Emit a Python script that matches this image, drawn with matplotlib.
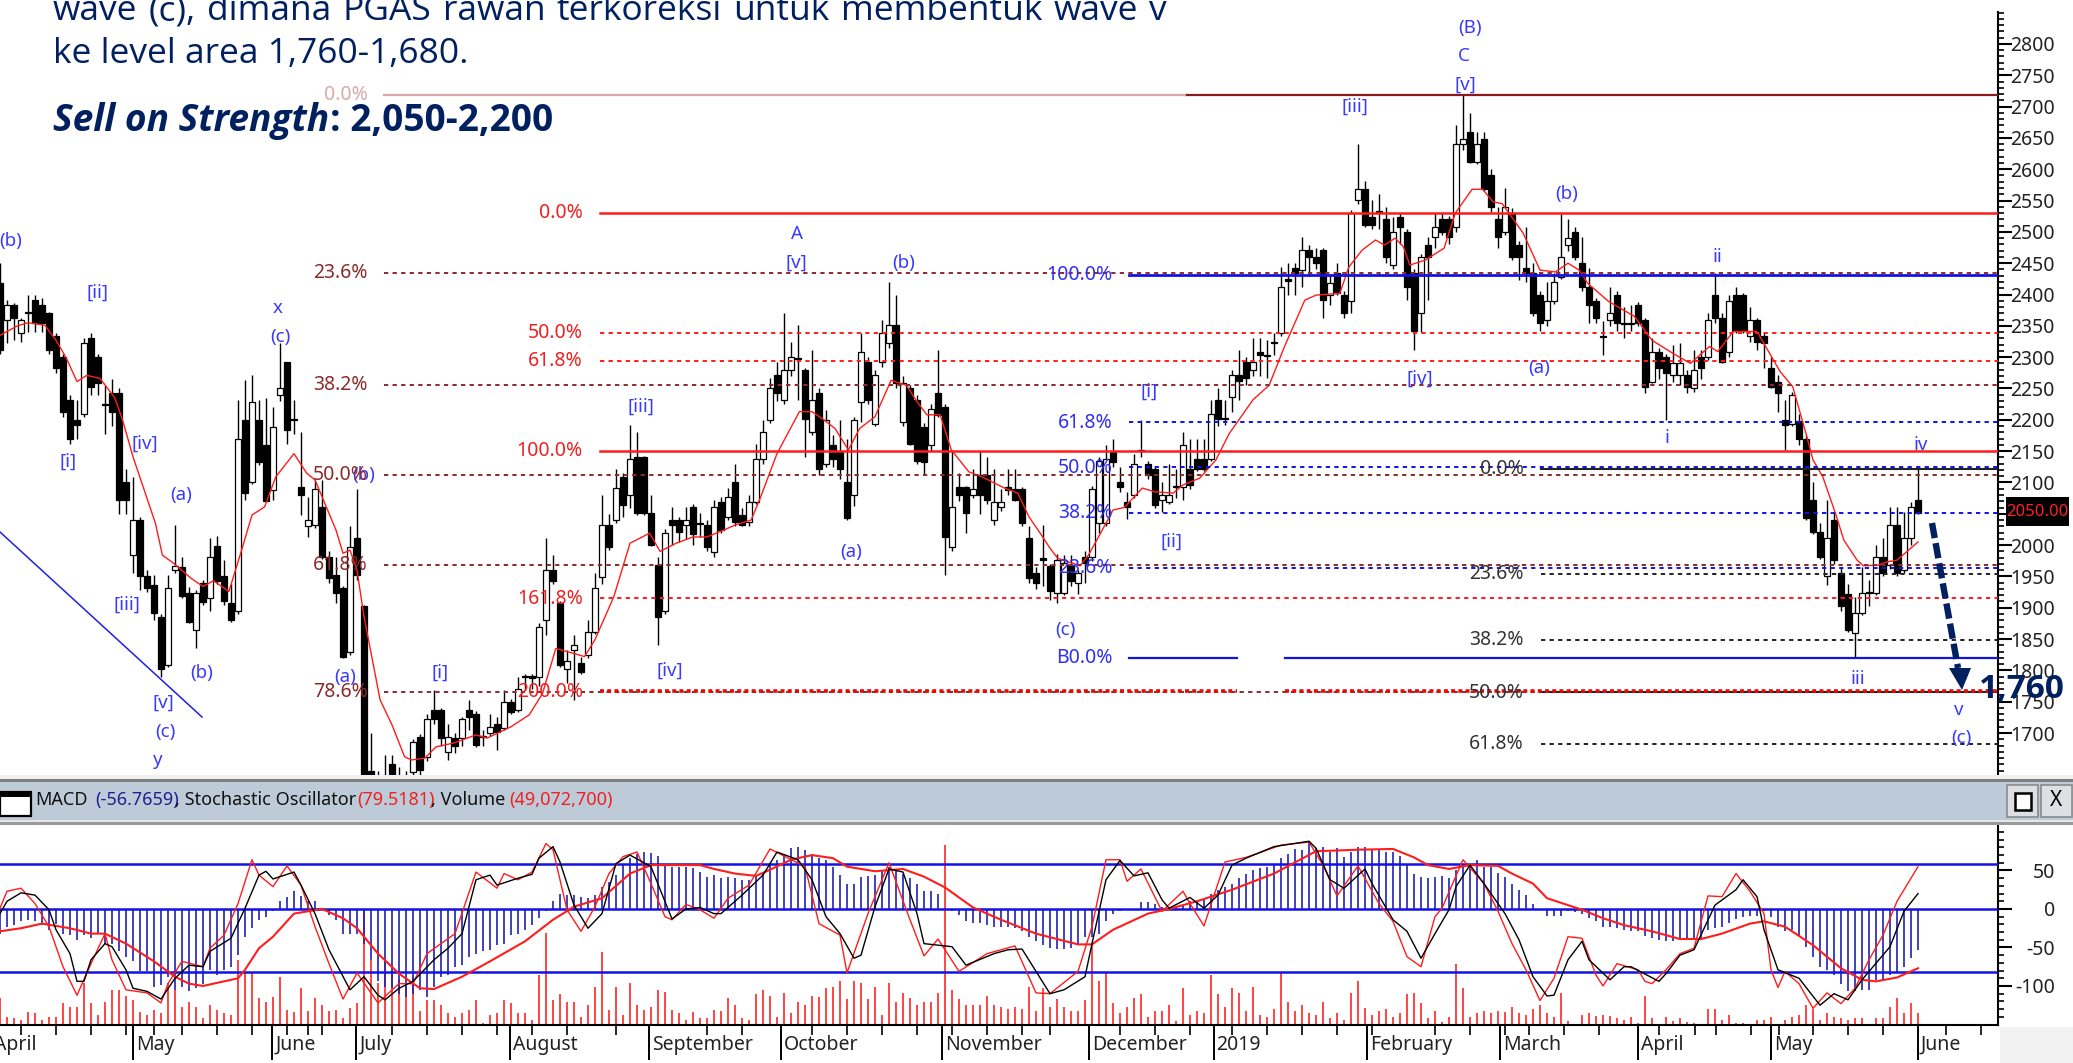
import matplotlib
matplotlib.use("Agg")
import matplotlib.pyplot as plt
from matplotlib.patches import Rectangle, Polygon
import numpy as np

W, H = 2073, 1063
plt.rcParams['font.family'] = ['Noto Sans', 'DejaVu Sans']
plt.rcParams['axes.unicode_minus'] = False

opens = [2418,2359,2383,2338,2372,2391,2383,2370,2333,2301,
2231,2200,2210,2330,2301,2224,2242,2243,2101,1984,
2040,1950,1936,1886,1809,1960,1965,1923,1864,1939,
1915,1999,1950,1907,1894,2200,2101,2200,2160,2088,
2240,2293,2202,2092,2030,2032,2061,1981,1952,1931,
1830,2011,1902,1640,1625,1630,1650,1630,1625,1638,
1694,1662,1737,1737,1670,1692,1692,1737,1731,1695,
1700,1715,1708,1750,1737,1791,1791,1790,1880,1960,
1907,1803,1833,1811,1825,1862,1949,2032,2040,2109,
2080,2140,2140,2051,1968,1894,2040,2040,2032,2061,
2036,2032,1989,2069,2045,2101,2048,2037,2069,2138,
2200,2271,2231,2279,2299,2279,2181,2242,2130,2160,
2149,2101,2080,2229,2293,2194,2293,2322,2351,2197,
2250,2231,2189,2160,2242,2221,1997,2092,2092,2080,
2112,2112,2040,2061,2092,2090,2090,2011,1955,1979,
1967,1924,1924,1968,1939,1981,1981,2035,2035,2149,
2101,2069,2080,2152,2130,2122,2072,2069,2094,2093,
2122,2138,2138,2138,2231,2203,2237,2271,2293,2279,
2309,2304,2324,2338,2424,2442,2439,2471,2460,2471,
2399,2434,2399,2389,2551,2569,2524,2533,2521,2447,
2524,2500,2434,2370,2479,2492,2521,2521,2508,2641,
2660,2612,2649,2591,2521,2500,2530,2479,2442,2434,
2399,2359,2389,2428,2479,2500,2450,2412,2389,2334,
2359,2399,2355,2355,2383,2359,2261,2309,2301,2271,
2271,2271,2250,2301,2301,2399,2362,2309,2399,2399,
2333,2359,2333,2282,2261,2200,2194,2198,2170,2072,
2021,1950,2040,1955,1922,1860,1891,1925,1923,1981,
1968,2032,1960,2011,2072]
highs = [2450,2392,2387,2362,2399,2399,2395,2372,2338,2305,
2240,2231,2330,2338,2305,2255,2265,2250,2122,2108,
2045,1960,1952,1890,1952,2032,1981,1933,1928,1945,
2011,2015,1976,1938,2231,2263,2271,2231,2235,2220,
2322,2293,2231,2181,2077,2104,2104,1990,1981,1935,
2030,2090,1905,1700,1640,1665,1665,1645,1640,1690,
1698,1731,1769,1740,1715,1700,1726,1753,1735,1705,
1731,1725,1769,1755,1790,1795,1795,1875,2011,1984,
1910,1832,1856,1822,1880,1955,2080,2050,2122,2115,
2192,2181,2142,2080,1981,2025,2061,2045,2061,2065,
2051,2040,2072,2077,2091,2130,2060,2080,2162,2200,
2266,2293,2370,2324,2351,2282,2311,2250,2215,2175,
2200,2170,2205,2338,2300,2280,2359,2420,2399,2270,
2255,2240,2195,2225,2311,2225,2150,2115,2095,2122,
2150,2140,2122,2090,2122,2122,2092,2030,1965,2032,
1970,1985,1984,1984,1960,1990,2095,2140,2160,2170,
2125,2085,2146,2200,2135,2125,2101,2130,2122,2181,
2170,2170,2170,2231,2250,2231,2279,2311,2300,2330,
2330,2327,2338,2444,2450,2450,2492,2479,2475,2475,
2431,2450,2405,2535,2641,2582,2551,2561,2540,2524,
2530,2505,2440,2465,2492,2530,2530,2525,2670,2718,
2689,2660,2660,2600,2540,2570,2538,2485,2508,2450,
2405,2420,2434,2530,2521,2508,2492,2442,2395,2357,
2412,2405,2380,2383,2388,2362,2330,2315,2305,2320,
2322,2280,2311,2311,2370,2434,2370,2399,2412,2402,
2380,2362,2340,2301,2271,2231,2245,2210,2175,2101,
2035,2072,2053,1965,1938,1917,1965,1944,2000,2011,
2061,2061,2053,2069,2122]
lows = [2305,2322,2328,2325,2340,2340,2340,2305,2275,2205,
2162,2170,2205,2240,2240,2178,2190,2050,2050,1955,
1928,1925,1880,1790,1805,1955,1915,1875,1835,1905,
1894,1938,1905,1878,1890,2072,2098,2128,2068,2072,
2230,2162,2178,2048,2013,2028,1978,1940,1907,1820,
1825,1945,1620,1600,1590,1600,1600,1600,1600,1630,
1625,1655,1715,1680,1657,1668,1680,1705,1678,1680,
1695,1673,1705,1730,1733,1768,1770,1775,1856,1938,
1805,1780,1753,1795,1820,1858,1938,1992,2035,2045,
2060,2048,2048,1998,1840,1890,2000,2005,2010,2000,
2013,1990,1981,2020,2040,2030,2030,2030,2065,2130,
2195,2230,2225,2270,2231,2141,2176,2112,2125,2125,
2105,2040,2062,2196,2225,2190,2285,2315,2250,2190,
2160,2130,2112,2150,2205,1952,1990,2070,2020,2075,
2050,2065,2032,2055,2080,2070,2030,1940,1930,1935,
1912,1908,1920,1935,1922,1940,1975,2020,2030,2125,
2085,2042,2075,2141,2105,2060,2053,2065,2075,2072,
2090,2118,2118,2135,2190,2192,2212,2231,2255,2270,
2270,2266,2303,2333,2399,2400,2412,2430,2440,2362,
2383,2400,2362,2370,2545,2508,2505,2505,2450,2440,
2480,2391,2311,2340,2391,2474,2495,2480,2500,2630,
2610,2608,2565,2532,2474,2495,2455,2423,2420,2365,
2341,2350,2385,2425,2470,2455,2405,2354,2354,2303,
2350,2341,2330,2341,2350,2242,2258,2265,2200,2260,
2255,2242,2245,2265,2295,2355,2290,2300,2338,2338,
2325,2311,2282,2250,2213,2152,2190,2160,2040,2018,
1978,1937,1970,1895,1862,1819,1888,1902,1920,1950,
1962,1950,1955,2000,2050]
closes = [2311,2383,2362,2359,2370,2354,2354,2311,2282,2213,
2170,2192,2322,2253,2258,2223,2213,2072,2072,2040,
1950,1931,1891,1803,1931,1966,1918,1878,1924,1909,
1981,1942,1910,1880,2169,2083,2229,2133,2071,2189,
2250,2183,2200,2080,2040,2090,1981,1947,1923,1822,
1997,1952,1635,1600,1600,1610,1615,1610,1605,1686,
1641,1723,1723,1692,1694,1680,1722,1726,1681,1693,
1709,1702,1750,1734,1771,1789,1788,1870,1960,1942,
1809,1815,1840,1798,1862,1931,2032,1997,2091,2064,
2138,2051,2051,2000,1886,2019,2032,2021,2040,2018,
2034,1997,2061,2024,2077,2037,2032,2069,2138,2181,
2250,2242,2279,2301,2297,2202,2231,2122,2200,2138,
2122,2043,2200,2309,2231,2271,2338,2351,2258,2258,
2162,2135,2133,2218,2208,2013,2061,2080,2051,2090,
2080,2072,2069,2069,2088,2072,2035,1947,1939,1977,
1926,1976,1971,1942,1955,1971,2090,2135,2138,2133,
2093,2061,2130,2150,2112,2064,2080,2080,2092,2160,
2096,2122,2122,2210,2202,2201,2271,2262,2266,2293,
2303,2302,2322,2412,2422,2434,2471,2460,2450,2391,
2418,2402,2370,2530,2569,2511,2511,2531,2460,2500,
2508,2412,2341,2460,2460,2508,2500,2492,2641,2649,
2612,2641,2569,2540,2492,2540,2460,2460,2434,2370,
2354,2389,2420,2460,2490,2460,2412,2383,2362,2332,
2370,2354,2353,2353,2354,2253,2309,2282,2274,2290,
2290,2253,2279,2282,2359,2362,2293,2389,2341,2341,
2359,2325,2322,2253,2242,2192,2240,2170,2043,2021,
1981,2011,1976,1902,1865,1891,1924,1924,1981,1955,
2032,1955,2011,2061,2052]

ma_i = [0,2.5,4,6.4,8,9.5,11,12.4,14.3,16.4,17.5,19,22.2,23.2,24.8,27.3,29,30.5,32.7,34.3,36,37.8,39.4,42,43.8,45,48,49,50,51,52,54.3,56,57.8,58.8,60.7,62.3,64.8,68,69.6,73,75.6,77.5,79.4,82,83.5,85,87.7,90,92.8,94.3,96.6,99,101,103.4,105,107.3,108.5,111,114.2,116,117.7,119.3,121.2,122.8,125,127.3,129.5,130.8,132.4,134.3,135.9,138.4,140.3,143.5,145.4,147,148.6,150,151.1,154.3,155.5,158,159,160.6,163.2,165,167.6,169,171.4,173.7,175.6,179,181.3,183.5,186.4,188,191.4,192.7,194.6,196.5,197.8,199.3,200.5,201.4,203.6,206.3,207.9,210.3,211.8,213.3,214.6,217.6,220,222.2,224,225.6,226.8,229.8,233.5,236,239,241.5,244.2,245.4,247.6,251,254.3,256.1,258,259,260.4,262.2,263.4,265.3,266.2,268.3,269.5,271,274]
ma_p = [2335,2350,2355,2351,2327,2298,2261,2271,2266,2235,2200,2141,2035,1984,1971,1947,1934,1943,1926,1984,2048,2061,2109,2146,2115,2104,2024,1987,1992,1960,1886,1753,1713,1662,1657,1660,1678,1684,1697,1692,1710,1729,1763,1835,1827,1822,1849,1918,2003,2019,1990,2003,2013,2013,2024,2032,2040,2072,2146,2213,2213,2200,2186,2152,2186,2205,2263,2255,2232,2208,2208,2152,2117,2109,2091,2083,2045,2019,1995,1979,1967,1984,2035,2056,2060,2091,2085,2083,2096,2107,2136,2178,2232,2255,2317,2391,2399,2402,2444,2471,2487,2479,2490,2476,2447,2455,2474,2530,2568,2568,2548,2545,2498,2439,2436,2450,2439,2418,2389,2365,2327,2306,2290,2317,2309,2341,2341,2277,2253,2178,2136,2109,2051,2008,1976,1967,1968,1973,1976,2005]

volume = [112,35,28,21,56,49,21,35,35,91,
74,77,175,91,42,98,147,147,122,105,
56,42,63,49,175,147,77,98,77,28,
84,63,49,42,273,217,217,112,98,119,
203,63,56,154,60,112,84,60,63,28,
70,91,483,273,175,273,231,189,175,203,
60,105,105,84,49,35,49,63,105,10,
42,49,105,91,49,49,21,210,385,105,
130,98,98,35,84,161,308,63,161,42,
175,84,63,77,147,140,63,49,21,56,
28,28,63,60,112,84,28,21,130,147,
122,35,136,52,98,84,122,119,154,161,
186,108,186,178,108,161,42,178,98,136,
112,84,98,98,136,756,147,108,84,84,
84,122,84,77,66,74,66,161,60,154,
74,108,74,60,60,105,343,186,217,91,
49,74,112,130,35,60,60,84,18,154,
42,60,52,210,130,74,154,136,60,161,
42,32,66,224,98,60,84,52,42,98,
28,52,21,136,186,70,42,60,66,32,
49,130,136,91,28,60,14,35,255,154,
35,52,60,52,60,56,74,52,42,66,
84,52,35,136,18,0,42,52,38,42,
38,28,21,35,10,122,28,0,35,18,
28,14,10,0,66,66,21,42,10,10,
0,21,21,35,0,21,35,42,84,66,
21,52,35,28,21,28,28,0,28,28,
74,112,52,91,49]

macd_hist = [-32,-23,-21,-16,-14,-16,-21,-27,-19,-32,
-34,-40,-34,-38,-32,-45,-45,-55,-62,-68,
-81,-81,-101,-99,-88,-105,-101,-107,-103,-97,
-79,-86,-79,-75,-60,-36,-25,-14,-10,-3,
11,16,23,17,10,10,0,-8,-14,-32,
-32,-32,-45,-66,-94,-101,-103,-110,-114,-110,
-105,-114,-101,-88,-86,-75,-73,-62,-58,-55,
-53,-47,-45,-34,-32,-27,-21,-12,-3,11,
20,18,18,16,14,18,29,35,44,59,
66,72,74,73,69,57,55,55,55,53,
48,42,44,40,42,40,38,38,44,48,
57,64,70,79,81,77,72,66,64,55,
44,33,32,42,43,44,51,55,51,46,
40,33,23,23,20,0,-3,-8,-16,-18,
-18,-21,-23,-23,-24,-25,-29,-36,-42,-47,
-51,-52,-52,-51,-47,-36,-36,-32,-16,-6,
-3,0,0,9,9,6,3,0,3,5,
10,10,12,20,25,29,33,40,46,50,
53,54,59,66,72,78,77,87,79,81,
74,79,68,74,80,81,78,78,74,74,
69,58,45,42,40,42,43,40,51,59,
59,64,55,55,47,42,32,25,18,6,
0,-9,-9,-9,-3,-4,-6,-12,-16,-23,
-23,-25,-27,-29,-29,-35,-38,-40,-42,-42,
-40,-40,-40,-38,-27,-25,-23,-18,-13,-11,
-9,-9,-3,-10,-23,-28,-27,-35,-49,-62,
-75,-79,-86,-97,-107,-107,-105,-105,-92,-94,
-86,-83,-75,-64,-53]

sig_i = [0,3,6,10,13,15,18,22,25,27,29,34,35,37,39,42,44,46,49,51,54,57,60,62,66,70,75,79,82,86,90,93,97,100,102,105,108,110,113,116,119,121,125,129,132,135,139,143,148,154,156,159,164,167,171,176,182,188,194,199,202,204,207,210,214,216,219,221,224,226,229,232,236,240,243,246,250,252,255,259,263,266,268,271,274]
sig_v = [-29,-25,-19,-25,-32,-32,-45,-68,-88,-97,-100,-90,-79,-51,-36,-6,-3,0,-12,-25,-58,-84,-103,-104,-88,-68,-42,-14,3,14,46,57,57,57,52,46,43,51,64,70,66,55,49,52,42,28,2,-14,-32,-46,-46,-27,-6,0,10,25,46,75,77,78,67,57,52,57,56,46,33,14,5,-1,-12,-21,-29,-39,-39,-32,-19,-16,-23,-47,-77,-92,-94,-89,-77]

stoch_d_i = [0,1,3,5,7,8,10,11,12,13,15,16,18,19,21,23,25,27,29,30,33,35,37,38,39,42,43,45,47,50,52,54,55,57,59,62,64,66,68,70,71,74,76,77,79,80,82,84,86,88,90,93,96,98,100,102,103,106,109,111,114,116,118,120,122,123,125,127,129,131,132,136,138,142,144,146,150,152,155,156,158,160,162,164,166,167,170,172,174,176,178,182,187,188,190,192,195,196,199,201,203,205,207,208,210,212,215,217,219,221,222,224,226,227,230,232,233,237,238,240,242,245,248,249,251,252,254,257,260,262,264,266,270,272,274]
stoch_d_v = [-6,10,21,18,-1,-27,-58,-94,-94,-66,-45,-49,-79,-103,-107,-117,-90,-73,-75,-55,-38,1,44,49,39,48,31,-6,-53,-105,-88,-112,-118,-103,-94,-66,-51,-32,38,44,31,40,45,66,81,61,5,-25,-6,59,70,55,-13,0,2,-6,-6,18,44,74,64,38,-10,-32,-64,-60,3,52,48,-6,-45,-49,-73,-58,-53,-52,-110,-105,-88,-45,38,63,43,47,12,1,15,1,18,57,66,81,88,79,38,27,52,33,-14,-29,-64,-32,-1,29,57,33,-6,-40,-88,-113,-112,-66,-42,-66,-92,-75,-75,-94,-84,-60,-53,5,25,38,16,-27,-79,-90,-125,-110,-118,-92,-49,-3,20]

stoch_k_i = [0,1,3,5,7,9,11,13,15,16,18,21,23,24,26,29,30,32,34,36,37,39,41,43,45,47,49,51,54,57,59,61,65,68,71,72,74,76,78,79,81,83,85,87,89,91,93,95,96,98,100,102,104,107,110,115,117,120,121,124,127,130,132,134,137,141,145,148,150,154,156,158,160,161,163,166,169,170,172,175,178,183,187,189,191,194,197,199,201,203,205,206,209,212,214,216,218,220,222,224,226,228,229,231,234,235,236,238,240,242,244,246,248,250,252,253,254,255,257,259,261,263,265,267,269,271,274]
stoch_k_v = [1,23,27,7,-23,-75,-112,-71,-32,-66,-105,-109,-122,-97,-68,-75,-51,-34,7,64,44,29,56,31,-23,-71,-117,-83,-122,-97,-97,-58,-32,48,27,46,38,48,85,77,-1,-29,3,46,68,74,33,-10,-14,6,-1,-12,14,31,78,55,-19,-34,-83,-6,60,-14,-61,-39,-81,-58,-48,-109,-110,-81,-23,64,64,36,52,-3,23,7,-22,61,67,83,87,57,17,56,7,-16,-62,-75,-10,1,64,33,-3,-45,-79,-119,-90,-36,-38,-86,-100,-71,-79,-94,-97,-79,-58,-51,17,16,46,23,-6,-79,-102,-81,-97,-129,-109,-123,-103,-66,-34,10,55]

dark_levels = [2434, 2255, 2112, 1968, 1766]
dark_labels = ['23.6%', '38.2%', '50.0%', '61.8%', '78.6%']
red_levels = [2530, 2339, 2294, 2150, 1915, 1767]
red_labels = ['0.0%', '50.0%', '61.8%', '100.0%', '161.8%', '200.0%']
blue_levels = [2431, 2196, 2124, 2052, 1963, 1820]
blue_labels = ['100.0%', '61.8%', '50.0%', '38.2%', '23.6%', 'B0.0%']
black_levels = [2122, 1954, 1849, 1765, 1682]
black_labels = ['0.0%', '23.6%', '38.2%', '50.0%', '61.8%']
top_level = 2718

month_pos = [-1.3, 19, 38.9, 50.9, 72.9, 92.7, 111.6, 134.6, 155.6, 173.4, 195.3, 214.3, 234, 253, 274]
month_names = ['April', 'May', 'June', 'July', 'August', 'September', 'October', 'November',
               'December', '2019', 'February', 'March', 'April', 'May', 'June']
week_pos = [3,8,13,18,22,26,31,36,41,44,46,56,61,66,71,76,81,88,101,106,116,121,126,131,136,141,146,150,160,165,170,176,181,186,191,196,205,210,215,218.4,223.4,228.4,237,242.2,245.2,250.2,254.2,259,264,269,278,283]

wave_labels = [('(b)',11,241),('[ii]',97,293),('x',278,308),('(c)',280,337),('[iii]',641,407),
 ('[i]',68,462),('[iv]',145,444),('(a)',181,495),('[iii]',127,605),('(b)',202,673),('[v]',163,703),
 ('(c)',165,732),('y',158,760),('(b)',364,475),('(a)',345,677),('[i]',440,673),('[iv]',670,671),
 ('(c)',1065,630),('A',797,234),('[v]',796,263),('(b)',904,263),('[iii]',1355,107),('[i]',1149,392),
 ('(a)',851,552),('[ii]',1171,542),('(B)',1470,28),('C',1464,56),('[v]',1465,85),('(b)',1567,194),
 ('ii',1717,257),('(a)',1539,368),('[iv]',1420,379),('i',1667,438),('iv',1921,445),('iii',1858,679),
 ('v',1959,710),('(c)',1961,738)]

heading_words = 'wave (c), dimana PGAS rawan terkoreksi untuk membentuk wave v'.split()

BAR = 7.0
NAVY = '#002060'
RED = '#ff1c1c'
DRED = '#8c2a2a'
BLUE = '#1212e6'
fig = plt.figure(figsize=(W/100, H/100), dpi=100, facecolor='white')

def axpx(x0, y0, x1, y1, **kw):
    return fig.add_axes([x0/W, 1-y1/H, (x1-x0)/W, (y1-y0)/H], **kw)

# ---- price panel
xmax = 1998/BAR
ax = axpx(0, 12, 1998, 775)
ax.set_xlim(0, xmax)
ax.set_ylim(1633, 2851)
idx = np.arange(len(opens))
op, hi, lo, cl = map(np.array, (opens, highs, lows, closes))
ax.vlines(idx, lo, hi, color='black', lw=1.0, zorder=2)
body = np.maximum(np.abs(cl-op), 1.5)
ax.bar(idx, body, bottom=np.minimum(op, cl), width=0.72,
       color=['white' if c > o else 'black' for o, c in zip(op, cl)],
       edgecolor='black', linewidth=0.9, zorder=2.5)
ax.plot(ma_i, ma_p, color=RED, lw=1.0, zorder=3)

def hline(level, x0px, x1px, color, lw, ls):
    ax.plot([x0px/BAR, x1px/BAR], [level, level], color=color, lw=lw, ls=ls, zorder=4,
            dash_capstyle='butt')

dash = (0, (2.2, 2.2))
ax.plot([384/BAR, 1187/BAR], [top_level]*2, color='#d6aaaa', lw=1.6, zorder=4)
ax.plot([1187/BAR, xmax], [top_level]*2, color='#8b1a1a', lw=1.6, zorder=4)
for lv, lb in zip(dark_levels, dark_labels):
    hline(lv, 384, 1998, DRED, 1.4, dash)
for lv, lb in zip(black_levels, black_labels):
    if lb in ('0.0%', '50.0%'):
        hline(lv, 1541, 1998, '#222222', 1.5, '-')
    else:
        hline(lv, 1541, 1998, '#222222', 1.4, dash)
for lv, lb in zip(red_levels, red_labels):
    if lb == '200.0%':
        hline(lv, 600, 1237, '#e80808', 2.6, (0, (1.1, 0.9)))
        hline(lv, 1285, 1998, '#e80808', 2.6, (0, (1.1, 0.9)))
    elif lb in ('0.0%', '100.0%'):
        hline(lv, 600, 1998, RED, 1.8, '-')
    else:
        hline(lv, 600, 1998, RED, 1.4, dash)
for lv, lb in zip(blue_levels, blue_labels):
    if lb == '100.0%':
        hline(lv, 1129, 1998, BLUE, 2.0, '-')
    elif lb == 'B0.0%':
        hline(lv, 1129, 1237, BLUE, 1.6, '-')
        hline(lv, 1285, 1998, BLUE, 1.6, '-')
    else:
        hline(lv, 1129, 1998, BLUE, 1.4, dash)

for s in ('top', 'left', 'bottom'):
    ax.spines[s].set_visible(False)
ax.spines['right'].set_linewidth(1.5)
ax.yaxis.tick_right()
ax.set_xticks([])
ax.set_yticks(np.arange(1700, 2801, 50))
ax.set_yticks(np.arange(1640, 2851, 10), minor=True)
ax.tick_params(axis='y', which='major', length=10, width=1.5, pad=31, labelsize=14, labelcolor='#222222')
ax.tick_params(axis='y', which='minor', length=4.5, width=1.2)
for t in ax.get_yticklabels():
    t.set_ha('right')
ax.patch.set_alpha(0)

# ---- indicator panel
vax = axpx(0, 825, 1998, 1025)
vax.set_xlim(0, xmax)
vax.set_ylim(0, 840)
vax.vlines(idx, 0, volume, color='#ff1a1a', lw=1.15)
vax.set_yticks([])
vax.set_xticks([])
for s in vax.spines.values():
    s.set_visible(False)

lax = axpx(0, 825, 1998, 1025)
lax.patch.set_alpha(0)
lax.set_xlim(0, xmax)
lax.set_ylim(-150.7, 109.1)
lax.vlines(idx, 0, macd_hist, color='#2020b0', lw=1.2, zorder=2)
for lv in (58, 0, -82):
    lax.axhline(lv, color=BLUE, lw=1.8, zorder=3)
lax.plot(sig_i, sig_v, color=RED, lw=1.5, zorder=4)
lax.plot(stoch_k_i, stoch_k_v, color=RED, lw=1.0, zorder=4)
lax.plot(stoch_d_i, stoch_d_v, color='black', lw=1.0, zorder=5)
for s in ('top', 'left'):
    lax.spines[s].set_visible(False)
lax.spines['right'].set_linewidth(1.5)
lax.spines['bottom'].set_linewidth(1.5)
lax.yaxis.tick_right()
lax.set_yticks([-100, -50, 0, 50])
lax.set_yticks(np.arange(-140, 109, 10), minor=True)
lax.tick_params(axis='y', which='major', length=10, width=1.5, pad=31, labelsize=14, labelcolor='#222222')
lax.tick_params(axis='y', which='minor', length=4.5, width=1.2)
for t in lax.get_yticklabels():
    t.set_ha('right')
lax.set_xticks([m for m in month_pos if m >= 0])
lax.set_xticks(week_pos, minor=True)
lax.set_xticklabels([])
lax.tick_params(axis='x', which='major', length=25, width=1.4)
lax.tick_params(axis='x', which='minor', length=7.5, width=1.2)
for m, name in zip(month_pos, month_names):
    lax.annotate(name, xy=(m, 0), xycoords=('data', 'axes fraction'), xytext=(2, -7),
                 textcoords='offset points', ha='left', va='top', fontsize=14,
                 color='#222222', annotation_clip=False)

# ---- overlay in pixels: text, title bar, arrow
ov = fig.add_axes([0, 0, 1, 1], zorder=20)
ov.set_xlim(0, W)
ov.set_ylim(H, 0)
ov.axis('off')

for t, x, y in wave_labels:
    ov.text(x, y, t, color='#3a3aff', fontsize=13.5, ha='center', va='center')
for lb, lv in zip(dark_labels, [273, 385, 475, 565, 692]):
    ov.text(368, lv, lb, color=DRED, fontsize=14, ha='right', va='center')
ov.text(368, 95, '0.0%', color='#d8aaaa', fontsize=14, ha='right', va='center')
for lb, lv in zip(red_labels, [213, 333, 361, 451, 599, 692]):
    ov.text(583, lv, lb, color='#f02020', fontsize=14, ha='right', va='center')
for lb, lv in zip(blue_labels, [275, 423, 468, 513, 568, 658]):
    ov.text(1113, lv, lb, color='#3030f0', fontsize=14, ha='right', va='center')
for lb, lv in zip(black_labels, [469, 574, 640, 693, 744]):
    ov.text(1524, lv, lb, color='#333333', fontsize=14, ha='right', va='center')

ov.plot([0, 202], [532, 717], color='#2020e0', lw=1.1)

# heading: first line is justified between x=53 and x=1167
renderer = fig.canvas.get_renderer()
word_texts = [ov.text(53, 20, w, color=NAVY, fontsize=25.5, family='Open Sans', va='baseline', ha='left')
              for w in heading_words]
widths = [t.get_window_extent(renderer).width for t in word_texts]
gap = (1167 - 53 - sum(widths)) / (len(widths) - 1)
cur = 53.0
for t, w in zip(word_texts, widths):
    t.set_x(cur)
    cur += w + gap
ov.text(53, 63, 'ke level area 1,760-1,680.', color=NAVY, fontsize=25.5,
        family='Open Sans', va='baseline', ha='left')
ov.text(53, 131, 'Sell on Strength', color=NAVY, fontsize=26.7, family='Open Sans',
        weight='bold', style='italic', va='baseline', ha='left')
ov.text(330, 131, ': 2,050-2,200', color=NAVY, fontsize=26.7, family='Open Sans',
        weight='bold', va='baseline', ha='left')

# forecast arrow
ov.plot([1932, 1958], [523, 668], color=NAVY, lw=4.6, ls=(0, (2.4, 0.8)), dash_capstyle='butt')
ov.add_patch(Polygon([[1949, 668], [1971, 668], [1962, 690]], closed=True, color=NAVY, lw=0))
ov.text(2022, 690, '1,760', color=NAVY, fontsize=24, weight='bold', family='Open Sans',
        ha='center', va='center')

# price tag
ov.add_patch(Rectangle((2006, 497), 63, 29, color='black', lw=0))
ov.text(2037.5, 511.5, '2050.00', color='#ff2020', fontsize=12, ha='center', va='center')

# title bar
ov.add_patch(Rectangle((0, 775), W, 5, color='#f0f0f0', lw=0, zorder=-1))
ov.add_patch(Rectangle((0, 779), W, 3, color='#7f7f7f', lw=0))
ov.add_patch(Rectangle((0, 782), W, 38, color='#bdcbd9', lw=0))
ov.add_patch(Rectangle((0, 820), W, 2, color='#e6e6e6', lw=0))
ov.add_patch(Rectangle((0, 822), W, 3, color='#9a9a9a', lw=0))
ov.add_patch(Rectangle((0, 792), 31, 24, facecolor='white', edgecolor='black', lw=1.6))
ov.add_patch(Rectangle((0, 792), 31, 5, color='black', lw=0))
for txt, x, c in [('MACD', 35, '#111111'), ('(-56.7659)', 95, '#202090'),
                  (', Stochastic Oscillator', 175, '#111111'), ('(79.5181)', 357, '#f02020'),
                  (', Volume', 431, '#111111'), ('(49,072,700)', 509, '#f02020')]:
    ov.text(x, 805, txt, color=c, fontsize=13, va='baseline', ha='left')
for bx in (2007, 2041):
    ov.add_patch(Rectangle((bx, 785), 31, 32, facecolor='#dcdfe3', edgecolor='#8a8a8a', lw=1.2))
ov.add_patch(Rectangle((2015, 793), 16, 17, facecolor='white', edgecolor='black', lw=1.8))
ov.text(2056.5, 801, 'X', color='black', fontsize=15, weight='bold', ha='center', va='center')

# bottom-right filler
ov.add_patch(Rectangle((2000, 1027), W-2000, H-1027, color='#f2f2f2', lw=0, zorder=-1))

fig.savefig('out.png', dpi=100, facecolor='white')
